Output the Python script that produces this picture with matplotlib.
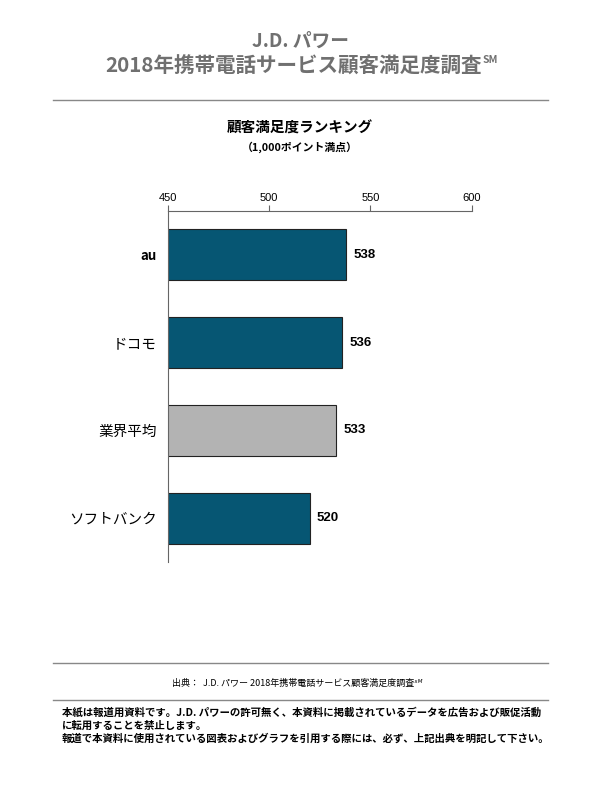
import matplotlib
matplotlib.use('Agg')
import matplotlib.pyplot as plt
from matplotlib.lines import Line2D

plt.rcParams['font.family'] = ['Noto Sans CJK JP', 'DejaVu Sans']

# データ
categories = ['au', 'ドコモ', '業界平均', 'ソフトバンク']
scores = [538, 536, 533, 520]
bar_colors = ['#065673', '#065673', '#b3b3b3', '#065673']
xticks = [450, 500, 550, 600]

fig = plt.figure(figsize=(6, 8), dpi=100)
ax = fig.add_axes([0.28, 0.2975, 0.506, 0.4388])

ax.barh(range(len(categories)), scores, height=0.58, color=bar_colors,
        edgecolor='#222222', linewidth=0.8, left=0)
ax.set_xlim(450, 600)
ax.set_ylim(len(categories) - 0.5, -0.5)

for i, v in enumerate(scores):
    ax.text(v + 3.5, i, str(v), va='center', ha='left', fontsize=9.5,
            fontweight='bold', family=['Liberation Sans', 'DejaVu Sans'])

ax.set_yticks(range(len(categories)))
ax.set_yticklabels(categories, fontsize=10.5)
ax.get_yticklabels()[0].set_fontsize(9.5)
ax.get_yticklabels()[0].set_fontweight('bold')
ax.tick_params(axis='y', length=0, pad=8)
ax.xaxis.tick_top()
ax.set_xticks(xticks)
ax.set_xticklabels([str(t) for t in xticks], fontsize=8,
                   family=['Liberation Sans', 'DejaVu Sans'])
ax.tick_params(axis='x', length=4, color='#666666', pad=2)
ax.spines['right'].set_visible(False)
ax.spines['bottom'].set_visible(False)
ax.spines['top'].set_color('#666666')
ax.spines['left'].set_color('#666666')

# タイトル
gray = '#707070'
fig.text(0.5, 1 - 41 / 800, 'J.D. パワー', ha='center', va='center',
         fontsize=13.5, color=gray, fontweight='bold')
t2 = fig.text(0.49, 1 - 66 / 800, '2018年携帯電話サービス顧客満足度調査',
              ha='center', va='center', fontsize=14.8, color=gray,
              fontweight='bold')
fig.canvas.draw()
bb = t2.get_window_extent()
fig.text(bb.x1 / 600 + 0.001, 1 - 60 / 800, 'SM', ha='left', va='center',
         fontsize=7.5, color=gray, fontweight='bold')

fig.add_artist(Line2D([53 / 600, 548 / 600], [1 - 100 / 800] * 2,
                      color='#888888', linewidth=1))
fig.text(0.5, 1 - 128 / 800, '顧客満足度ランキング', ha='center', va='center',
         fontsize=10.5, fontweight='bold')
fig.text(0.5, 1 - 147 / 800, '（1,000ポイント満点）', ha='center', va='center',
         fontsize=7.8, fontweight='bold')

# 出典・注意書き
fig.add_artist(Line2D([53 / 600, 548 / 600], [1 - 663 / 800] * 2,
                      color='#888888', linewidth=1))
fig.text(0.495, 1 - 683 / 800, '出典：  J.D. パワー 2018年携帯電話サービス顧客満足度調査ˢᴹ',
         ha='center', va='center', fontsize=6.5, style='italic')
fig.add_artist(Line2D([53 / 600, 548 / 600], [1 - 700 / 800] * 2,
                      color='#888888', linewidth=1))
notes = ['本紙は報道用資料です。J.D. パワーの許可無く、本資料に掲載されているデータを広告および販促活動',
         'に転用することを禁止します。',
         '報道で本資料に使用されている図表およびグラフを引用する際には、必ず、上記出典を明記して下さい。']
for k, line in enumerate(notes):
    fig.text(62 / 600, 1 - (712 + 13.5 * k) / 800, line, ha='left', va='center',
             fontsize=7.5, fontweight='bold')

fig.savefig('out.png', dpi=100)
